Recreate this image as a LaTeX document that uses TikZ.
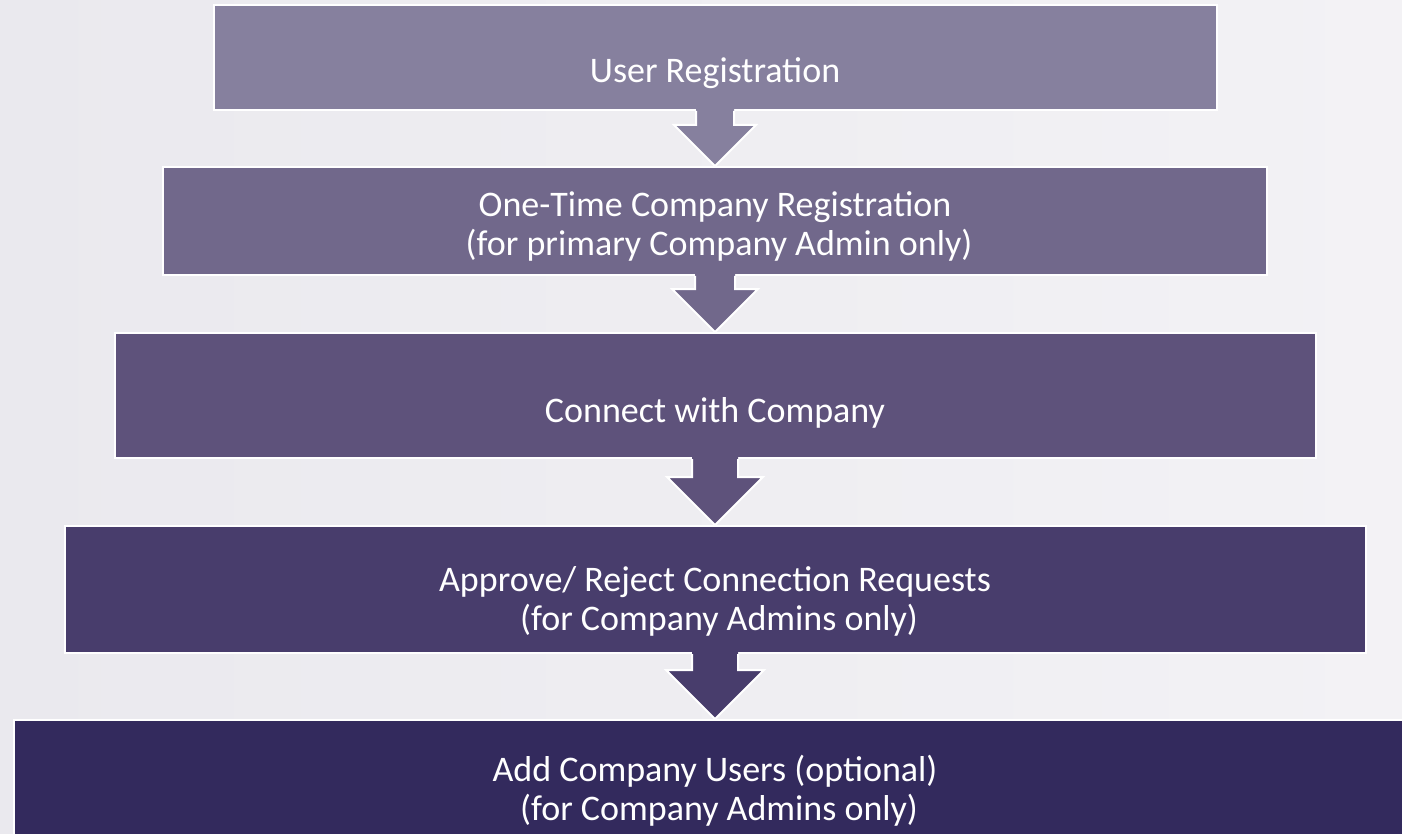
\documentclass[tikz,border=0pt]{standalone}
\usepackage{fontspec}
\setmainfont{Carlito}
\usetikzlibrary{calc}

\definecolor{bgleft}{RGB}{234,233,238}
\definecolor{bgright}{RGB}{243,242,245}
\definecolor{stepA}{RGB}{134,128,158}
\definecolor{stepB}{RGB}{113,104,139}
\definecolor{stepC}{RGB}{94,82,123}
\definecolor{stepD}{RGB}{72,61,108}
\definecolor{stepE}{RGB}{51,42,93}

\tikzset{
  stepbox/.style={draw=white, line width=1pt, inner sep=0pt},
  steplabel/.style={text=white, align=center, inner sep=0pt, anchor=base,
    font=\fontsize{18}{19.5}\selectfont},
}

% block arrow from box #1 down to box #2, colour #3, shaft half width #4, head half width #5
\newcommand{\flowarrow}[5]{%
  \fill[#3] ($(#1.south)+(-#4,-2)$) -- ($(#2.north)+(-#4,-#5)$) -- ($(#2.north)+(-#5,-#5)$)
    -- (#2.north) -- ($(#2.north)+(#5,-#5)$) -- ($(#2.north)+(#4,-#5)$)
    -- ($(#1.south)+(#4,-2)$) -- cycle;
  \draw[white, line width=1pt, line join=miter] ($(#1.south)+(-#4,0)$) -- ($(#2.north)+(-#4,-#5)$)
    -- ($(#2.north)+(-#5,-#5)$) -- (#2.north) -- ($(#2.north)+(#5,-#5)$)
    -- ($(#2.north)+(#4,-#5)$) -- ($(#1.south)+(#4,0)$);
}

\begin{document}
\begin{tikzpicture}[x=0.5pt, y=-0.5pt]
\useasboundingbox (0,0) rectangle (1402,834);
\clip (0,0) rectangle (1402,834);
\shade[left color=bgleft, right color=bgright] (0,0) rectangle (1402,834);

% the five steps
\node[stepbox, fill=stepA, minimum width=501.5pt, minimum height=52.5pt] (reg) at (715,57.5) {};
\node[stepbox, fill=stepB, minimum width=552pt, minimum height=54pt] (comp) at (715,221) {};
\node[stepbox, fill=stepC, minimum width=600.5pt, minimum height=62.5pt] (conn) at (715,395.5) {};
\node[stepbox, fill=stepD, minimum width=650.5pt, minimum height=63.5pt] (appr) at (715,589.5) {};
\node[stepbox, fill=stepE, minimum width=701pt, minimum height=65pt] (users) at (715,785) {};

% arrows
\flowarrow{reg}{comp}{stepA}{19}{41}
\flowarrow{comp}{conn}{stepB}{20}{43}
\flowarrow{conn}{appr}{stepC}{23}{48}
\flowarrow{appr}{users}{stepD}{23}{49}

% labels
\node[steplabel] (reglabel) at (715,83) {User Registration};
\node[steplabel] (complabel) at (715,256) {One-Time Company Registration\\ \ (for primary Company Admin only)};
\node[steplabel] (connlabel) at (715,422) {Connect with Company};
\node[steplabel] (apprlabel) at (715,630) {Approve/ Reject Connection Requests\\ \ (for Company Admins only)};
\node[steplabel] (userslabel) at (715,820) {Add Company Users (optional)\\ \ (for Company Admins only)};
\end{tikzpicture}
\end{document}
